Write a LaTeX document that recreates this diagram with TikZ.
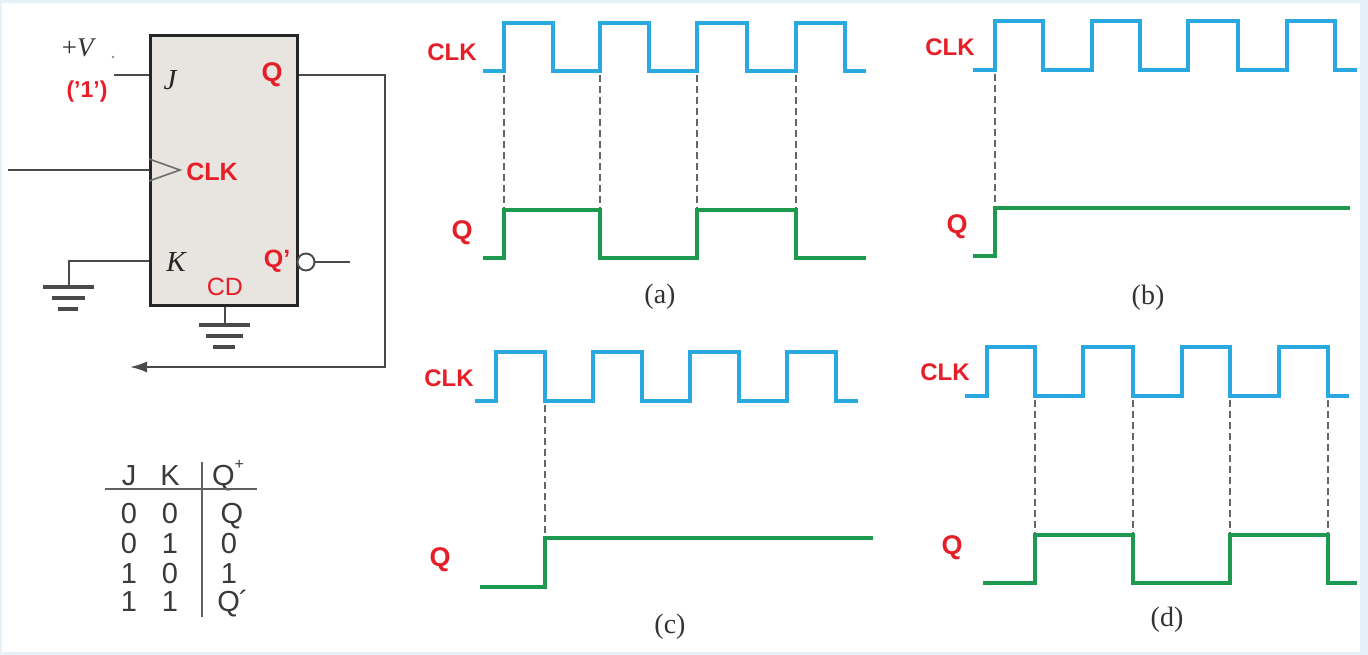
\documentclass[tikz,border=0pt]{standalone}
\usepackage{fontspec}
\setmainfont{Liberation Serif}
\setsansfont{Liberation Sans}
\usetikzlibrary{arrows.meta}
\definecolor{clkblue}{HTML}{2AA8E0}
\definecolor{qgreen}{HTML}{1E9A50}
\definecolor{redtxt}{HTML}{E61E28}
\definecolor{boxfill}{HTML}{E8E4E0}
\definecolor{framebg}{HTML}{E4F1F8}
\definecolor{wiregray}{HTML}{4A4A4A}
\definecolor{tabgray}{HTML}{3A3A3A}
\newcommand\fsz[1]{\fontsize{#1}{#1}\selectfont}
\begin{document}
\begin{tikzpicture}[x=1pt,y=-1pt,
  wire/.style={draw=wiregray,line width=1.9pt},
  gnd/.style={draw=wiregray,line width=3.4pt},
  clkwave/.style={draw=clkblue,line width=3.4pt,line join=miter},
  qwave/.style={draw=qgreen,line width=3.4pt,line join=miter},
  dashln/.style={draw=wiregray!85,line width=1.7pt,dash pattern=on 7pt off 4pt},
  redb/.style={text=redtxt,font=\sffamily\bfseries\fsz{24}},
  wlab/.style={text=redtxt,font=\sffamily\bfseries\fsz{24}},
  qlab/.style={text=redtxt,font=\sffamily\bfseries\fsz{27}},
  subcap/.style={font=\rmfamily\fsz{28},text=black!80},
  tab/.style={font=\sffamily\fsz{29},text=tabgray,inner sep=0pt,anchor=base,text height=20pt,text depth=0pt},
  ital/.style={font=\rmfamily\itshape\fsz{29},text=black!85}]
\useasboundingbox (0,0) rectangle (1368,655);
\fill[framebg] (0,0) rectangle (1368,655);
\fill[white] (2,3) rectangle (1360,652);

% ---------------- flip-flop ----------------
\node[draw=black!85,line width=3.2pt,fill=boxfill,minimum width=147pt,minimum height=270pt,anchor=north west,inner sep=0pt] (ff) at (149,34) {};
\coordinate (jin) at (114,75);
\draw[wire] (jin) -- (ff.west |- jin);
\coordinate (clkin) at (8,170);
\draw[wire] (clkin) -- (ff.west |- clkin);
\draw[draw=wiregray!80,line width=1.6pt] (149,159) -- (180,170) -- (149,181);
\coordinate (kg) at (69,287);
\coordinate (kin) at (69,261);
\draw[wire] (kg) -- (kin) -- (ff.west |- kin);
\draw[gnd] (43,287) -- (94,287);
\draw[gnd] (52,298) -- (85,298);
\draw[gnd] (58,309) -- (78,309);
\coordinate (cdg) at (225,325);
\draw[wire] (ff.south -| cdg) -- (cdg);
\draw[gnd] (199,325) -- (250,325);
\draw[gnd] (206,336) -- (243,336);
\draw[gnd] (213,347) -- (235,347);
% Q output feedback
\coordinate (qo1) at (385,75);
\coordinate (qo2) at (385,367);
\coordinate (qo3) at (130,367);
\draw[wire,-{Latex[length=17pt,width=11pt]}] (ff.east |- qo1) -- (qo1) -- (qo2) -- (qo3);
% Q' bubble
\node[draw=wiregray,line width=1.9pt,circle,minimum size=17pt,inner sep=0pt,fill=white] (bub) at (306,262) {};
\coordinate (qbout) at (350,262);
\draw[wire] (bub.east) -- (qbout);

\node[font=\rmfamily\fsz{27},text=black!80] (plusv) at (79,48) {+\textit{V}};
\node[circle,fill=black!45,inner sep=0.9pt] (dot) at (113,57) {};
\node[redb,font=\sffamily\bfseries\fsz{23}] (one) at (87,92) {('1')};
\node[ital] (jl) at (170,80) {J};
\node[ital] (kl) at (176,262) {K};
\node[qlab] (qt) at (272,75) {Q};
\node[qlab,font=\sffamily\bfseries\fsz{25}] (qb) at (277,261) {Q'};
\node[redb,font=\sffamily\bfseries\fsz{25}] (clkl) at (212,172) {CLK};
\node[text=redtxt,font=\sffamily\fsz{25}] (cd) at (225,287) {CD};

% ---------------- truth table ----------------
\node[tab] (tj) at (129,485) {J};
\node[tab] (tk) at (170,485) {K};
\node[tab] (tq) at (228,485) {Q\raisebox{0.55em}{\fsz{16}+}};
\node[tab] (r1a) at (129,523) {0};
\node[tab] (r1b) at (170,523) {0};
\node[tab] (r1c) at (232,523) {Q};
\node[tab] (r2a) at (129,553) {0};
\node[tab] (r2b) at (170,553) {1};
\node[tab] (r2c) at (229,553) {0};
\node[tab] (r3a) at (129,583) {1};
\node[tab] (r3b) at (170,583) {0};
\node[tab] (r3c) at (229,583) {1};
\node[tab] (r4a) at (129,611) {1};
\node[tab] (r4b) at (170,611) {1};
\node[tab] (r4c) at (233,611) {Q\kern-1pt´};
\coordinate (hl1) at (105,489); \coordinate (hl2) at (257,489);
\coordinate (vl1) at (202,462); \coordinate (vl2) at (202,617);
\draw[draw=tabgray!80,line width=1.5pt] (hl1) -- (hl2);
\draw[draw=tabgray!80,line width=1.5pt] (vl1) -- (vl2);

% ---------------- panel (a) ----------------
\node[wlab] (ca) at (452,52) {CLK};
\node[qlab] (qa) at (462,233) {Q};
\node[subcap] (la) at (660,297) {(a)};
\draw[clkwave] (483,71) -- (504,71) -- (504,23) -- (553,23) -- (553,71) -- (600,71) -- (600,23) -- (649,23) -- (649,71) -- (697,71) -- (697,23) -- (747,23) -- (747,71) -- (796,71) -- (796,23) -- (845,23) -- (845,71) -- (866,71);
\draw[qwave] (483,258) -- (504,258) -- (504,210) -- (600,210) -- (600,258) -- (697,258) -- (697,210) -- (796,210) -- (796,258) -- (866,258);
\foreach \x in {504,600,697,796} \draw[dashln] (\x,75) -- (\x,208);

% ---------------- panel (b) ----------------
\node[wlab] (cb) at (950,47) {CLK};
\node[qlab] (qbq) at (957,227) {Q};
\node[subcap] (lb) at (1148,298) {(b)};
\draw[clkwave] (973,70) -- (995,70) -- (995,21) -- (1043,21) -- (1043,70) -- (1092,70) -- (1092,21) -- (1140,21) -- (1140,70) -- (1188,70) -- (1188,21) -- (1238,21) -- (1238,70) -- (1287,70) -- (1287,21) -- (1335,21) -- (1335,70) -- (1357,70);
\draw[qwave] (973,256) -- (995,256) -- (995,208) -- (1350,208);
\draw[dashln] (995,74) -- (995,206);

% ---------------- panel (c) ----------------
\node[wlab] (cc) at (449,378) {CLK};
\node[qlab] (qc) at (440,560) {Q};
\node[subcap] (lc) at (670,627) {(c)};
\draw[clkwave] (475,401) -- (496,401) -- (496,352) -- (545,352) -- (545,401) -- (593,401) -- (593,352) -- (642,352) -- (642,401) -- (690,401) -- (690,352) -- (739,352) -- (739,401) -- (787,401) -- (787,352) -- (836,352) -- (836,401) -- (858,401);
\draw[qwave] (480,587) -- (545,587) -- (545,538) -- (873,538);
\draw[dashln] (545,405) -- (545,536);

% ---------------- panel (d) ----------------
\node[wlab] (cdd) at (945,372) {CLK};
\node[qlab] (qd) at (952,548) {Q};
\node[subcap] (ld) at (1167,620) {(d)};
\draw[clkwave] (965,396) -- (987,396) -- (987,347) -- (1035,347) -- (1035,396) -- (1083,396) -- (1083,347) -- (1133,347) -- (1133,396) -- (1182,396) -- (1182,347) -- (1230,347) -- (1230,396) -- (1279,396) -- (1279,347) -- (1328,347) -- (1328,396) -- (1349,396);
\draw[qwave] (983,583) -- (1035,583) -- (1035,535) -- (1133,535) -- (1133,583) -- (1230,583) -- (1230,535) -- (1328,535) -- (1328,583) -- (1357,583);
\foreach \x in {1035,1133,1230,1328} \draw[dashln] (\x,400) -- (\x,533);
\end{tikzpicture}
\end{document}
